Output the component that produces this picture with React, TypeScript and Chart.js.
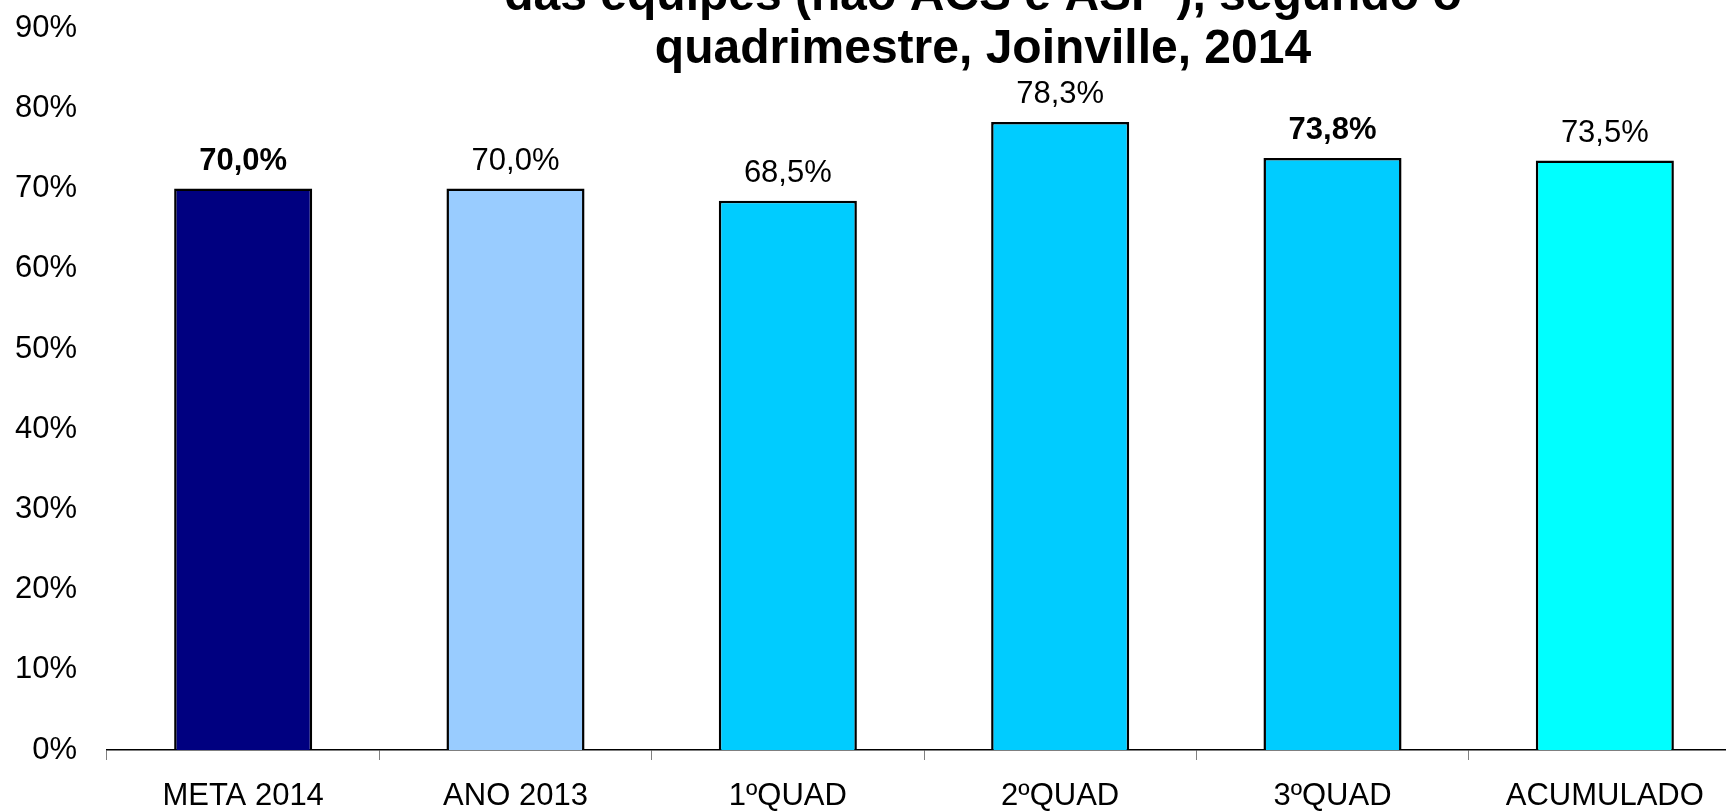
import React, { useEffect, useRef } from "react";
import { Chart, registerables } from "chart.js";

Chart.register(...registerables);

const categories = ["META 2014", "ANO 2013", "1ºQUAD", "2ºQUAD", "3ºQUAD", "ACUMULADO"];
const values = [70.0, 70.0, 68.5, 78.3, 73.8, 73.5];
const barColors = ["#000080", "#99CCFF", "#00CCFF", "#00CCFF", "#00CCFF", "#00FFFF"];
const boldLabels = [true, false, false, false, true, false];
const titleLines = ["das equipes (não ACS e ASP ), segundo o", "quadrimestre, Joinville, 2014"];
const yTicks = { min: 0, max: 90, step: 10 };

const FONT = "'Liberation Sans', Arial, sans-serif";

const fmt = (v: number) => v.toFixed(1).replace(".", ",") + "%";

const labelPlugin = {
  id: "barLabels",
  afterDatasetsDraw(chart: any) {
    const ctx = chart.ctx;
    const meta = chart.getDatasetMeta(0);
    ctx.save();
    ctx.fillStyle = "#000";
    ctx.textAlign = "center";
    ctx.textBaseline = "alphabetic";
    meta.data.forEach((bar: any, i: number) => {
      ctx.font = `${boldLabels[i] ? "bold " : ""}31px ${FONT}`;
      ctx.fillText(fmt(values[i]), bar.x, bar.y - 19);
    });
    ctx.restore();
  },
};

const titlePlugin = {
  id: "cutTitle",
  afterDraw(chart: any) {
    const ctx = chart.ctx;
    ctx.save();
    ctx.fillStyle = "#000";
    ctx.textAlign = "center";
    ctx.textBaseline = "alphabetic";
    ctx.font = `bold 48px ${FONT}`;
    ctx.fillText(titleLines[0], 983, 10);
    ctx.fillText(titleLines[1], 983, 63);
    ctx.restore();
  },
};

export default function App() {
  const ref = useRef<HTMLCanvasElement>(null);
  useEffect(() => {
    if (!ref.current) return;
    const chart = new Chart(ref.current, {
      type: "bar",
      data: {
        labels: categories,
        datasets: [
          {
            data: values,
            backgroundColor: barColors,
            borderColor: "#000000",
            borderWidth: 2.5,
            categoryPercentage: 1,
            barPercentage: 0.507,
          },
        ],
      },
      options: {
        animation: false,
        responsive: false,
        layout: { padding: { top: 28.2, left: 0, right: 0, bottom: 0 } },
        plugins: {
          legend: { display: false },
          title: { display: false },
          tooltip: { enabled: false },
        },
        scales: {
          x: {
            grid: {
              display: true,
              drawOnChartArea: false,
              drawTicks: true,
              tickLength: 10,
              color: "#808080",
              lineWidth: 1,
              offset: true,
            },
            border: { display: true, color: "#000000", width: 1.5 },
            ticks: {
              color: "#000",
              font: { family: FONT, size: 31 },
              padding: 18,
              maxRotation: 0,
              autoSkip: false,
            },
            afterFit(scale: any) {
              scale.height = 61;
            },
          },
          y: {
            min: yTicks.min,
            max: yTicks.max,
            grid: { display: false, drawTicks: true, tickLength: 30 },
            border: { display: false },
            ticks: {
              stepSize: yTicks.step,
              color: "#000",
              font: { family: FONT, size: 31 },
              padding: 0,
              callback: (v: any) => v + "%",
            },
            afterFit(scale: any) {
              scale.width = 107;
            },
          },
        },
      },
      plugins: [labelPlugin, titlePlugin],
    });
    return () => chart.destroy();
  }, []);
  return (
    <div style={{ position: "fixed", left: 0, top: 0, width: 1741, height: 811, background: "#fff" }}>
      <canvas ref={ref} width={1741} height={811} style={{ display: "block" }} />
    </div>
  );
}
